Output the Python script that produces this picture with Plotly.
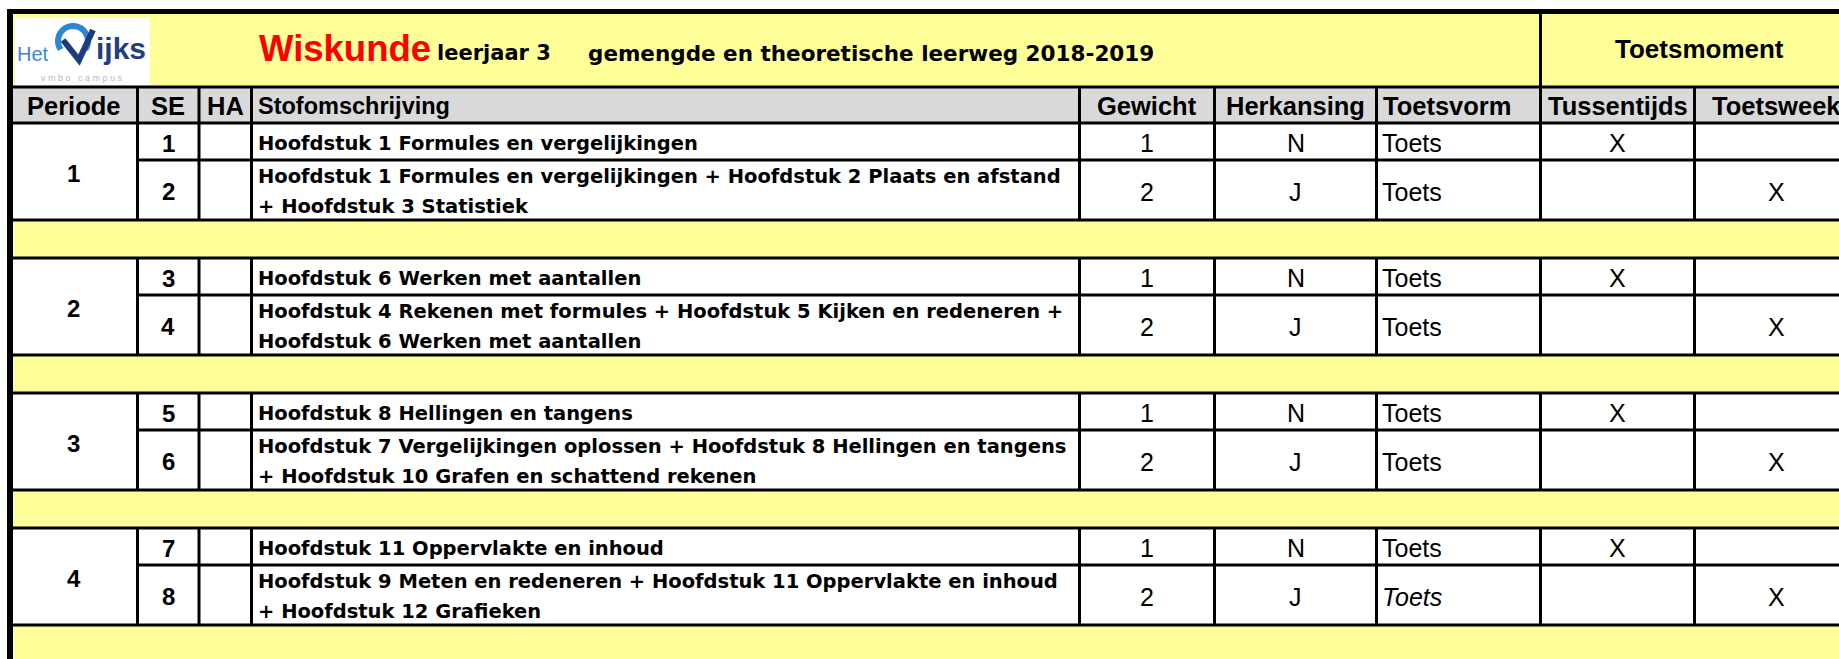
import math
import plotly.graph_objects as go

# ---------------- data ----------------
title_subject = "Wiskunde"
title_year = "leerjaar 3"
title_track = "gemengde en theoretische leerweg 2018-2019"
group_header = "Toetsmoment"
headers = ["Periode", "SE", "HA", "Stofomschrijving", "Gewicht",
           "Herkansing", "Toetsvorm", "Tussentijds", "Toetsweek"]
periods = ["1", "2", "3", "4"]
se_numbers = ["1", "2", "3", "4", "5", "6", "7", "8"]
ha_values = ["", "", "", "", "", "", "", ""]
descriptions = [
    ["Hoofdstuk 1 Formules en vergelijkingen"],
    ["Hoofdstuk 1 Formules en vergelijkingen + Hoofdstuk 2 Plaats en afstand",
     "+ Hoofdstuk 3 Statistiek"],
    ["Hoofdstuk 6 Werken met aantallen"],
    ["Hoofdstuk 4 Rekenen met formules + Hoofdstuk 5 Kijken en redeneren +",
     "Hoofdstuk 6 Werken met aantallen"],
    ["Hoofdstuk 8 Hellingen en tangens"],
    ["Hoofdstuk 7 Vergelijkingen oplossen + Hoofdstuk 8 Hellingen en tangens",
     "+ Hoofdstuk 10 Grafen en schattend rekenen"],
    ["Hoofdstuk 11 Oppervlakte en inhoud"],
    ["Hoofdstuk 9 Meten en redeneren + Hoofdstuk 11 Oppervlakte en inhoud",
     "+ Hoofdstuk 12 Grafieken"],
]
weights = ["1", "2", "1", "2", "1", "2", "1", "2"]
herkansing = ["N", "J", "N", "J", "N", "J", "N", "J"]
toetsvorm = ["Toets", "Toets", "Toets", "Toets", "Toets", "Toets", "Toets", "Toets"]
tussentijds = ["X", "", "X", "", "X", "", "X", ""]
toetsweek = ["", "X", "", "X", "", "X", "", "X"]
logo_words = ["Het", "ijks", "v m b o   c a m p u s"]

# ---------------- layout / style ----------------
W, H = 1839, 659
YELLOW = "#FFFF99"
GRAY = "#D9D9D9"
ARIAL = "Liberation Sans, Arial, sans-serif"
WIDE = "DejaVu Sans, sans-serif"
col_edges = [10, 137.5, 199, 251.5, 1079.5, 1214.5, 1376.5, 1540.5, 1694.5, 1858]
title_top, title_bottom = 11.5, 87
header_h, single_h, double_h, sep_h = 36, 37, 60, 38
line_gap = 15
body_shift = 1.5
toetsvorm_italic = [False, False, False, False, False, False, False, True]
col_align = ["center", "center", "center", "left", "center", "center", "left", "center", "center"]
header_sizes = [25.5, 25.5, 25.5, 23.5, 25.5, 25.5, 25.5, 25.5, 25.5]
pad = 5

fig = go.Figure()
fig.add_trace(go.Scatter(x=[0, W], y=[0, H], mode="markers",
                         marker=dict(opacity=0), hoverinfo="skip", showlegend=False))

shapes = []


def rect(x0, x1, y0, y1, fill):
    shapes.append(dict(type="rect", xref="x", yref="y", x0=x0, x1=x1, y0=y0, y1=y1,
                       fillcolor=fill, line=dict(width=0), layer="above"))


def line(x0, y0, x1, y1, w=3, color="black"):
    shapes.append(dict(type="line", xref="x", yref="y", x0=x0, y0=y0, x1=x1, y1=y1,
                       line=dict(color=color, width=w), layer="above"))


def arc_path(cx, cy, r, a0, a1, n=24):
    pts = []
    for k in range(n + 1):
        a = math.radians(a0 + (a1 - a0) * k / n)
        pts.append((cx + r * math.cos(a), cy - r * math.sin(a)))
    return "M " + " L ".join(f"{px:.2f} {py:.2f}" for px, py in pts)


def text(x, y, s, size, family=ARIAL, color="black", bold=False, italic=False, anchor="center"):
    fig.add_annotation(x=x, y=y, xref="x", yref="y", text=s, showarrow=False,
                       xanchor=anchor, yanchor="middle", borderpad=0,
                       font=dict(family=family, size=size, color=color,
                                 weight="bold" if bold else "normal",
                                 style="italic" if italic else "normal"))


def col_x(c):
    if col_align[c] == "left":
        return col_edges[c] + pad, "left"
    return (col_edges[c] + col_edges[c + 1]) / 2, "center"


# row geometry
header_y0 = title_bottom
header_y1 = header_y0 + header_h
rows = []
blocks = []
seps = []
y = header_y1
for p in range(len(periods)):
    a0, a1 = y, y + single_h
    b0, b1 = a1, a1 + double_h
    rows.append((a0, a1))
    rows.append((b0, b1))
    blocks.append((a0, b1))
    seps.append((b1, b1 + sep_h))
    y = b1 + sep_h

# fills
rect(col_edges[0], col_edges[-1], title_top, title_bottom, YELLOW)
rect(col_edges[0], col_edges[-1], header_y0, header_y1, GRAY)
for s0, s1 in seps:
    rect(col_edges[0], col_edges[-1], s0, s1, YELLOW)
rect(15, 150, 18, 85, "white")

# lines
line(col_edges[0], header_y0, col_edges[-1], header_y0)
line(col_edges[0], header_y1, col_edges[-1], header_y1)
for (a0, a1), (b0, b1) in zip(rows[0::2], rows[1::2]):
    line(col_edges[1], a1, col_edges[-1], a1)
    line(col_edges[0], b1, col_edges[-1], b1)
for s0, s1 in seps:
    line(col_edges[0], s1, col_edges[-1], s1)
for x in col_edges[1:]:
    line(x, header_y0, x, header_y1)
    for b0, b1 in blocks:
        line(x, b0, x, b1)
line(col_edges[7], title_top, col_edges[7], title_bottom)
line(col_edges[-1], title_top, col_edges[-1], H)
line(col_edges[0], title_top, col_edges[0], H + 5, w=6)
line(col_edges[0] - 3, title_top, col_edges[-1], title_top, w=5)

# logo mark: blue ring + navy stroke (stylised R)
shapes.append(dict(type="path", xref="x", yref="y", path=arc_path(73, 41, 15, 215, -35),
                   line=dict(color="#2F86D0", width=6), layer="above"))
shapes.append(dict(type="path", xref="x", yref="y",
                   path="M 63 40 L 79 60 L 93 30",
                   line=dict(color="#1D3C7E", width=6), layer="above"))
fig.update_layout(shapes=shapes)

text(16, 54, logo_words[0], 20, color="#3F86CF", anchor="left")
text(95, 48, logo_words[1], 30, color="#1F3F82", bold=True, anchor="left")
text(82, 78, logo_words[2], 9, color="#B8B8B8")

# title
baseline = 61
text(258, baseline - 0.355 * 36.5, title_subject, 36.5, color="#FF0000", bold=True, anchor="left")
text(436, baseline - 0.36 * 21, title_year, 21, family=WIDE, bold=True, anchor="left")
text(587, baseline - 0.36 * 21.5, title_track, 21.5, family=WIDE, bold=True, anchor="left")
text((col_edges[7] + col_edges[9]) / 2, (title_top + title_bottom) / 2, group_header, 26, bold=True)

# headers
hy = (header_y0 + header_y1) / 2 + 0.5
for c, h in enumerate(headers):
    x, anc = col_x(c)
    text(x, hy, h, header_sizes[c], bold=True, anchor=anc)

# periods
for p, lab in enumerate(periods):
    b0, b1 = blocks[p]
    text((col_edges[0] + col_edges[1]) / 2, (b0 + b1) / 2 + body_shift, lab, 24, bold=True)

# data rows
for i, (r0, r1) in enumerate(rows):
    cy = (r0 + r1) / 2 + body_shift
    x, anc = col_x(1)
    text(x, cy, se_numbers[i], 24, bold=True, anchor=anc)
    x, anc = col_x(2)
    if ha_values[i]:
        text(x, cy, ha_values[i], 24, bold=True, anchor=anc)
    x, anc = col_x(3)
    lines = descriptions[i]
    n = len(lines)
    for k, ln in enumerate(lines):
        ly = cy + (k - (n - 1) / 2) * 2 * line_gap
        text(x, ly, ln, 19.5, family=WIDE, bold=True, anchor=anc)
    for c, vals in [(4, weights), (5, herkansing), (7, tussentijds), (8, toetsweek)]:
        if vals[i]:
            x, anc = col_x(c)
            text(x, cy, vals[i], 25, anchor=anc)
    x, anc = col_x(6)
    text(x - 1, cy, toetsvorm[i], 25, italic=toetsvorm_italic[i], anchor=anc)

fig.update_layout(
    width=W, height=H, margin=dict(l=0, r=0, t=0, b=0),
    paper_bgcolor="white", plot_bgcolor="white",
    xaxis=dict(range=[0, W], visible=False, fixedrange=True),
    yaxis=dict(range=[H, 0], visible=False, fixedrange=True),
    showlegend=False,
)
fig.write_html("out.html", config={"displayModeBar": False, "staticPlot": True},
               post_script="document.body.style.margin='0px';document.body.style.overflow='hidden';")
